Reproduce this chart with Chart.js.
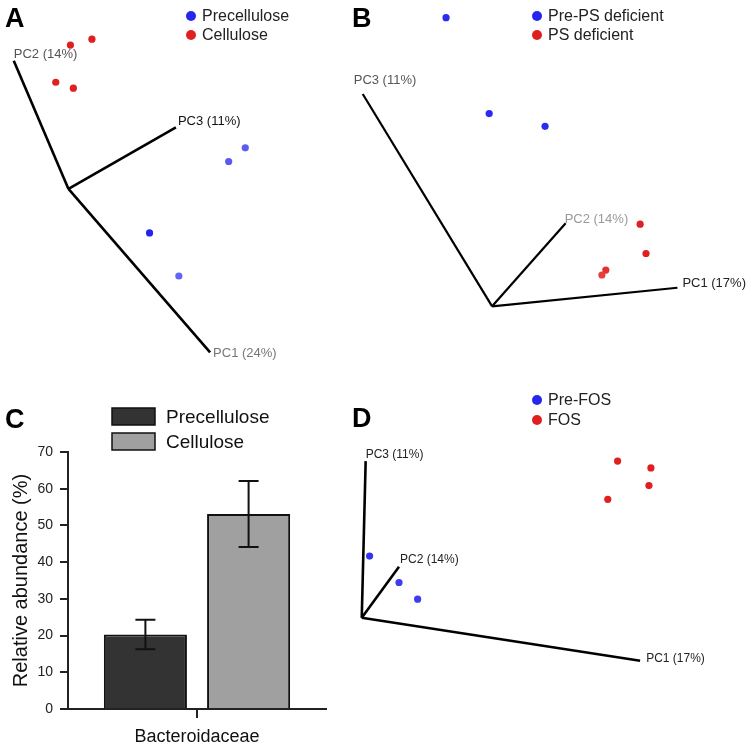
<!DOCTYPE html>
<html>
<head>
<meta charset="utf-8">
<script src="https://cdn.jsdelivr.net/npm/chart.js@4.4.1/dist/chart.umd.min.js"></script>
<style>
  body { margin: 0; background: #fff; }
  #page { position: relative; width: 750px; height: 748px; overflow: hidden; }
  canvas { position: absolute; }
</style>
</head>
<body>
<div id="page">
  <canvas id="panelA" width="345" height="370" style="left:0;top:0"></canvas>
  <canvas id="panelB" width="405" height="370" style="left:345px;top:0"></canvas>
  <canvas id="panelC" width="345" height="378" style="left:0;top:370px"></canvas>
  <canvas id="panelD" width="405" height="378" style="left:345px;top:370px"></canvas>
</div>
<script>
// ---- data (projected PCoA coordinates, origin at the axis origin) ----
const axisNames = ['PC1', 'PC2', 'PC3'];

// A
const aPre = [{x: 181, y: 42}, {x: 164, y: 28}, {x: 83, y: -45}, {x: 113, y: -89}];
const aCell = [{x: 2, y: 147}, {x: 24, y: 153}, {x: -13, y: 109}, {x: 5, y: 103}];
const aAxisPct = [24, 14, 11];
const aAxisEnd = [{x: 145, y: -167}, {x: -56, y: 131}, {x: 110, y: 63}];

// B
const bPre = [{x: -47, y: 295}, {x: -3, y: 197}, {x: 54, y: 184}];
const bDef = [{x: 151, y: 84}, {x: 157, y: 54}, {x: 116, y: 37}, {x: 112, y: 32}];
const bAxisPct = [17, 14, 11];
const bAxisEnd = [{x: 189, y: 19}, {x: 75, y: 85}, {x: -132, y: 217}];

// C
const cCategories = ['Bacteroidaceae'];
const cPrecellulose = [20.3];
const cCellulose = [53.1];
const cPrecelluloseErr = [[16.3, 24.3]];
const cCelluloseErr = [[44.1, 62.1]];

// D
const dPre = [{x: 8, y: 63}, {x: 38, y: 36}, {x: 57, y: 19}];
const dFos = [{x: 261, y: 160}, {x: 295, y: 153}, {x: 293, y: 135}, {x: 251, y: 121}];
const dAxisPct = [17, 14, 11];
const dAxisEnd = [{x: 284, y: -44}, {x: 38, y: 52}, {x: 4, y: 160}];

const FONT = "'Liberation Sans', Arial, sans-serif";
const RED = '#e01f1f';
const BLUE = '#2626f0';

// panel letter (A, B, C, D)
const panelLetter = {
  id: 'panelLetter',
  afterDraw(chart, args, opts) {
    const ctx = chart.ctx;
    ctx.save();
    ctx.font = 'bold 27px ' + FONT;
    ctx.fillStyle = '#000';
    ctx.textBaseline = 'alphabetic';
    ctx.fillText(opts.text, opts.x, opts.y);
    ctx.restore();
  }
};

// dot legend for the PCoA panels
const dotLegend = {
  id: 'dotLegend',
  afterDraw(chart, args, opts) {
    if (!opts.items) return;
    const ctx = chart.ctx;
    ctx.save();
    ctx.font = '16px ' + FONT;
    ctx.textBaseline = 'middle';
    opts.items.forEach((it, i) => {
      const y = opts.y + i * opts.gap;
      ctx.fillStyle = it.color;
      ctx.beginPath();
      ctx.arc(opts.x, y, 5, 0, Math.PI * 2);
      ctx.fill();
      ctx.fillStyle = '#222';
      ctx.fillText(it.label, opts.x + 11, y + 1);
    });
    ctx.restore();
  }
};

// PC axis labels at the end of each axis line
const axisLabels = {
  id: 'axisLabels',
  afterDatasetsDraw(chart, args, opts) {
    if (!opts.ends) return;
    const ctx = chart.ctx;
    const xs = chart.scales.x, ys = chart.scales.y;
    ctx.save();
    ctx.font = opts.size + 'px ' + FONT;
    ctx.textBaseline = 'middle';
    opts.ends.forEach((p, i) => {
      const px = xs.getPixelForValue(p.x), py = ys.getPixelForValue(p.y);
      ctx.fillStyle = opts.colors[i];
      ctx.fillText(`${axisNames[i]} (${opts.pct[i]}%)`, px + opts.offsets[i][0], py + opts.offsets[i][1]);
    });
    ctx.restore();
  }
};

function pcoaChart(id, groups, axisEnd, pct, o) {
  const datasets = groups.map(g => ({
    label: g.label,
    data: g.data,
    backgroundColor: g.colors,
    borderWidth: 0,
    pointRadius: 3.6,
    showLine: false
  }));
  axisEnd.forEach((end, i) => {
    datasets.push({
      label: axisNames[i],
      data: [{x: 0, y: 0}, end],
      showLine: true,
      borderColor: '#000',
      borderWidth: o.lineWidth,
      pointRadius: 0
    });
  });
  new Chart(document.getElementById(id), {
    type: 'scatter',
    data: { datasets },
    options: {
      responsive: false,
      animation: false,
      events: [],
      layout: { padding: 0 },
      scales: {
        x: { display: false, min: o.xr[0], max: o.xr[1] },
        y: { display: false, min: o.yr[0], max: o.yr[1] }
      },
      plugins: {
        legend: { display: false },
        tooltip: { enabled: false },
        panelLetter: { text: o.letter, x: o.letterPos[0], y: o.letterPos[1] },
        dotLegend: {
          x: o.legendPos[0], y: o.legendPos[1], gap: o.legendGap,
          items: groups.map(g => ({ label: g.label, color: g.legendColor }))
        },
        axisLabels: { ends: axisEnd, pct, size: o.labelSize, colors: o.labelColors, offsets: o.labelOffsets }
      }
    },
    plugins: [panelLetter, dotLegend, axisLabels]
  });
}

// ---- panel A ----
pcoaChart('panelA', [
  { label: 'Precellulose', data: aPre, legendColor: BLUE, colors: ['#5c5cf2', '#5a5af2', '#2424ee', '#6464f4'] },
  { label: 'Cellulose', data: aCell, legendColor: RED, colors: [RED, RED, RED, RED] }
], aAxisEnd, aAxisPct, {
  xr: [-66, 279], yr: [-181, 189], lineWidth: 2.6,
  letter: 'A', letterPos: [5, 27],
  legendPos: [191, 16], legendGap: 19,
  labelSize: 13, labelColors: ['#777', '#555', '#111'],
  labelOffsets: [[3, 1], [0, -6], [2, -6]]
});

// ---- panel B ----
pcoaChart('panelB', [
  { label: 'Pre-PS deficient', data: bPre, legendColor: BLUE, colors: ['#2a2af0', '#2a2af0', '#2a2af0'] },
  { label: 'PS deficient', data: bDef, legendColor: RED, colors: [RED, RED, '#e43030', '#e44040'] }
], bAxisEnd, bAxisPct, {
  xr: [-146, 259], yr: [-61, 309], lineWidth: 2.2,
  letter: 'B', letterPos: [7, 27],
  legendPos: [192, 16], legendGap: 19,
  labelSize: 13, labelColors: ['#222', '#999', '#555'],
  labelOffsets: [[5, -4], [-1, -4], [-9, -14]]
});

// ---- panel D ----
pcoaChart('panelD', [
  { label: 'Pre-FOS', data: dPre, legendColor: BLUE, colors: ['#3434f0', '#3c3cf0', '#3c3cf0'] },
  { label: 'FOS', data: dFos, legendColor: RED, colors: [RED, RED, RED, RED] }
], dAxisEnd, dAxisPct, {
  xr: [-13, 392], yr: [-129, 249], lineWidth: 2.6,
  letter: 'D', letterPos: [7, 57],
  legendPos: [192, 30], legendGap: 20,
  labelSize: 12, labelColors: ['#222', '#222', '#222'],
  labelOffsets: [[6, -2], [1, -7], [0, -6]]
});

// ---- panel C: bar chart with error bars ----
const errorBars = {
  id: 'errorBars',
  afterDatasetsDraw(chart, args, opts) {
    const ctx = chart.ctx;
    const ys = chart.scales.y;
    ctx.save();
    ctx.strokeStyle = '#111';
    ctx.lineWidth = 2;
    opts.errors.forEach((errs, di) => {
      chart.getDatasetMeta(di).data.forEach((bar, i) => {
        const lo = ys.getPixelForValue(errs[i][0]);
        const hi = ys.getPixelForValue(errs[i][1]);
        ctx.beginPath();
        ctx.moveTo(bar.x, lo); ctx.lineTo(bar.x, hi);
        ctx.moveTo(bar.x - 10, lo); ctx.lineTo(bar.x + 10, lo);
        ctx.moveTo(bar.x - 10, hi); ctx.lineTo(bar.x + 10, hi);
        ctx.stroke();
      });
    });
    ctx.restore();
  }
};

const boxLegend = {
  id: 'boxLegend',
  afterDraw(chart, args, opts) {
    const ctx = chart.ctx;
    ctx.save();
    ctx.font = '19px ' + FONT;
    ctx.textBaseline = 'middle';
    chart.data.datasets.forEach((ds, i) => {
      const y = opts.y + i * opts.gap;
      ctx.fillStyle = ds.backgroundColor;
      ctx.fillRect(opts.x, y, 43, 17);
      ctx.strokeStyle = '#111';
      ctx.lineWidth = 1.5;
      ctx.strokeRect(opts.x, y, 43, 17);
      ctx.fillStyle = '#111';
      ctx.fillText(ds.label, opts.x + 54, y + 9.5);
    });
    ctx.restore();
  }
};

new Chart(document.getElementById('panelC'), {
  type: 'bar',
  data: {
    labels: cCategories,
    datasets: [
      { label: 'Precellulose', data: cPrecellulose, backgroundColor: '#333333', borderColor: '#111', borderWidth: 2 },
      { label: 'Cellulose', data: cCellulose, backgroundColor: '#a0a0a0', borderColor: '#111', borderWidth: 2 }
    ]
  },
  options: {
    responsive: false,
    animation: false,
    events: [],
    categoryPercentage: 0.8,
    barPercentage: 0.805,
    layout: { padding: { left: 0, top: 82, right: 19, bottom: 0 } },
    scales: {
      x: {
        grid: { offset: false, drawOnChartArea: false, tickLength: 9, color: '#222', lineWidth: 2 },
        border: { color: '#222', width: 2 },
        ticks: { font: { family: FONT, size: 18 }, color: '#111', padding: 8 },
        afterFit(s) { s.height = 39; }
      },
      y: {
        min: 0, max: 70,
        ticks: { stepSize: 10, font: { family: FONT, size: 14 }, color: '#222', padding: 7 },
        grid: { drawOnChartArea: false, tickLength: 8, color: '#222', lineWidth: 2 },
        border: { color: '#222', width: 2 },
        title: { display: true, text: 'Relative abundance (%)', font: { family: FONT, size: 20 }, color: '#111', padding: { top: 9, bottom: 0 } },
        afterFit(s) { s.width = 68; }
      }
    },
    plugins: {
      legend: { display: false },
      tooltip: { enabled: false },
      panelLetter: { text: 'C', x: 5, y: 58 },
      boxLegend: { x: 112, y: 38, gap: 25 },
      errorBars: { errors: [cPrecelluloseErr, cCelluloseErr] }
    }
  },
  plugins: [panelLetter, boxLegend, errorBars]
});
</script>
</body>
</html>
